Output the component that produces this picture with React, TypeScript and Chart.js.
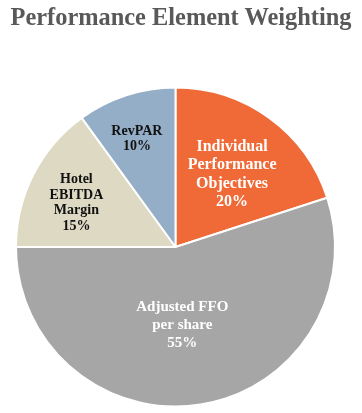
import React, { useEffect, useRef } from "react";
import { Chart, registerables } from "chart.js";

Chart.register(...registerables);

const TITLE = "Performance Element Weighting";
const categories: string[][] = [
  ["Individual", "Performance", "Objectives"],
  ["Adjusted FFO", "per share"],
  ["Hotel", "EBITDA", "Margin"],
  ["RevPAR"],
];
const values = [20, 55, 15, 10];
const sliceColors = ["#EF6A37", "#A6A6A6", "#DDD9C3", "#94AEC7"];
const labelColors = ["#ffffff", "#ffffff", "#111111", "#111111"];
const labelSizes = [16, 15, 14, 14];
const labelLineHeights = [18.5, 18, 15.6, 15];
const labelRadius = [0.576, 0.49, 0.68, 0.718];
const labelAngleShift = [2, 4, -3, -1.7];

const FONT = '"Liberation Serif", "Times New Roman", serif';

const sliceLabels = {
  id: "sliceLabels",
  afterDatasetsDraw(chart: any) {
    const ctx = chart.ctx as CanvasRenderingContext2D;
    const meta = chart.getDatasetMeta(0);
    meta.data.forEach((arc: any, i: number) => {
      const { x, y, startAngle, endAngle, outerRadius } = arc.getProps(
        ["x", "y", "startAngle", "endAngle", "outerRadius"],
        true
      );
      const mid = (startAngle + endAngle) / 2 + (labelAngleShift[i] * Math.PI) / 180;
      const r = outerRadius * labelRadius[i];
      const cx = x + Math.cos(mid) * r;
      const cy = y + Math.sin(mid) * r;
      const lines = [...categories[i], values[i] + "%"];
      ctx.save();
      ctx.font = `bold ${labelSizes[i]}px ${FONT}`;
      ctx.fillStyle = labelColors[i];
      ctx.textAlign = "center";
      ctx.textBaseline = "middle";
      const lh = labelLineHeights[i];
      lines.forEach((ln, k) => {
        ctx.fillText(ln, cx, cy + (k - (lines.length - 1) / 2) * lh);
      });
      ctx.restore();
    });
  },
};

export default function App() {
  const ref = useRef<HTMLCanvasElement>(null);
  useEffect(() => {
    if (!ref.current) return;
    const chart = new Chart(ref.current, {
      type: "pie",
      data: {
        labels: categories.map((c) => c.join(" ")),
        datasets: [
          {
            data: values,
            backgroundColor: sliceColors,
            borderColor: "#ffffff",
            borderWidth: 2,
          },
        ],
      },
      options: {
        responsive: false,
        animation: false,
        layout: { padding: { left: 15, right: 26, top: 86.5, bottom: 5.5 } },
        plugins: {
          legend: { display: false },
          tooltip: { enabled: false },
          title: { display: false },
        },
      },
      plugins: [sliceLabels],
    });
    return () => chart.destroy();
  }, []);
  return (
    <div
      style={{
        position: "fixed",
        left: 0,
        top: 0,
        width: 362,
        height: 413,
        background: "#ffffff",
      }}
    >
      <div
        style={{
          position: "absolute",
          left: 0,
          top: 3,
          width: 362,
          textAlign: "center",
          fontFamily: FONT,
          fontWeight: "bold",
          fontSize: 24.4,
          lineHeight: "27px",
          color: "#595959",
          whiteSpace: "nowrap",
        }}
      >
        {TITLE}
      </div>
      <canvas ref={ref} width={362} height={413} style={{ display: "block" }} />
    </div>
  );
}
